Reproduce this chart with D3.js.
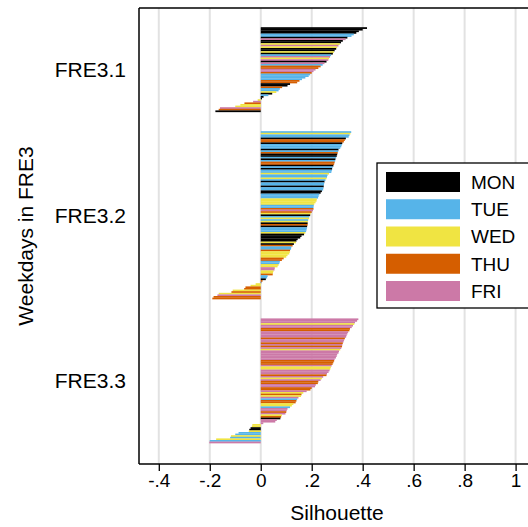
<!DOCTYPE html>
<html><head><meta charset="utf-8">
<script src="https://cdn.jsdelivr.net/npm/d3@7"></script>
<style>body{margin:0;background:#fff}svg{display:block}text{font-family:"Liberation Sans",Arial,sans-serif;fill:#000}</style>
</head><body><svg id="c" width="528" height="527"></svg>
<script>
const clusters = ["FRE3.1", "FRE3.2", "FRE3.3"];
const days = ["MON", "TUE", "WED", "THU", "FRI"];
const dayColors = ["#000000", "#56B4E9", "#F0E442", "#D55E00", "#CC79A7"];
const xTicks = [-0.4, -0.2, 0, 0.2, 0.4, 0.6, 0.8, 1];
const xTickLabels = ["-.4", "-.2", "0", ".2", ".4", ".6", ".8", "1"];

// cluster FRE3.1: silhouette widths (sorted) and weekday of each observation
const sil1 = [0.417,0.40,0.385,0.375,0.365,0.356,0.34,0.333,0.322,0.315,0.31,0.305,0.30,0.296,0.29,0.287,0.283,0.276,0.272,0.268,0.265,0.258,0.25,0.243,0.235,0.226,0.215,0.207,0.2,0.194,0.188,0.175,0.162,0.152,0.143,0.115,0.105,0.084,0.075,0.07,0.061,0.045,0.03,0.011,0.005,-0.012,-0.03,-0.064,-0.08,-0.1,-0.16,-0.165,-0.178];
const day1 = ["MON","MON","MON","MON","TUE","TUE","MON","FRI","MON","MON","WED","FRI","WED","MON","MON","WED","MON","TUE","FRI","WED","FRI","MON","FRI","TUE","THU","THU","FRI","FRI","THU","TUE","TUE","TUE","TUE","THU","THU","MON","MON","THU","TUE","TUE","WED","MON","TUE","MON","MON","WED","FRI","THU","WED","WED","FRI","THU","MON"];

// cluster FRE3.2
const sil2 = [0.355,0.352,0.348,0.345,0.334,0.33,0.326,0.32,0.318,0.316,0.312,0.305,0.304,0.302,0.3,0.298,0.296,0.293,0.292,0.29,0.288,0.285,0.282,0.28,0.279,0.277,0.268,0.262,0.26,0.258,0.254,0.25,0.249,0.248,0.247,0.246,0.245,0.24,0.235,0.23,0.227,0.225,0.22,0.219,0.215,0.21,0.208,0.207,0.207,0.205,0.2,0.196,0.194,0.19,0.19,0.186,0.185,0.184,0.184,0.182,0.181,0.18,0.178,0.175,0.17,0.16,0.155,0.145,0.14,0.138,0.13,0.125,0.12,0.119,0.115,0.114,0.112,0.105,0.1,0.09,0.083,0.075,0.073,0.07,0.066,0.055,0.054,0.05,0.048,0.047,0.027,0.025,0.02,0.007,0.002,-0.02,-0.04,-0.06,-0.065,-0.11,-0.115,-0.165,-0.17,-0.185,-0.19];
const day2 = ["TUE","WED","TUE","TUE","MON","THU","THU","MON","TUE","TUE","TUE","MON","TUE","THU","MON","MON","TUE","MON","TUE","THU","THU","MON","TUE","MON","TUE","TUE","WED","TUE","TUE","WED","TUE","MON","TUE","TUE","MON","TUE","TUE","MON","MON","TUE","TUE","TUE","WED","WED","WED","WED","TUE","TUE","THU","FRI","THU","WED","MON","TUE","WED","TUE","WED","MON","THU","MON","TUE","TUE","TUE","WED","MON","MON","MON","MON","MON","WED","MON","THU","TUE","TUE","THU","WED","WED","WED","WED","THU","THU","TUE","TUE","WED","WED","FRI","FRI","WED","WED","THU","TUE","TUE","MON","THU","MON","WED","WED","THU","THU","WED","THU","WED","FRI","THU","THU"];

// cluster FRE3.3
const sil3 = [0.383,0.378,0.37,0.367,0.362,0.357,0.35,0.348,0.343,0.34,0.337,0.335,0.33,0.327,0.325,0.322,0.32,0.319,0.316,0.312,0.307,0.305,0.3,0.298,0.295,0.29,0.288,0.285,0.282,0.278,0.275,0.273,0.27,0.266,0.26,0.258,0.245,0.24,0.235,0.226,0.224,0.216,0.213,0.2,0.195,0.18,0.167,0.16,0.158,0.148,0.143,0.14,0.137,0.128,0.122,0.115,0.105,0.102,0.1,0.097,0.083,0.08,0.077,0.063,0.057,0.01,-0.033,-0.035,-0.04,-0.045,-0.047,-0.087,-0.1,-0.117,-0.12,-0.175,-0.2,-0.202];
const day3 = ["FRI","FRI","FRI","WED","FRI","FRI","THU","THU","FRI","FRI","FRI","FRI","THU","FRI","FRI","THU","FRI","THU","FRI","WED","FRI","FRI","FRI","FRI","FRI","FRI","THU","THU","THU","FRI","WED","WED","FRI","FRI","FRI","THU","FRI","WED","FRI","THU","THU","FRI","FRI","THU","THU","FRI","WED","THU","WED","FRI","TUE","THU","THU","WED","WED","TUE","FRI","FRI","THU","FRI","WED","THU","MON","FRI","FRI","FRI","WED","WED","MON","MON","WED","TUE","TUE","WED","TUE","WED","TUE","FRI"];

const sils = [sil1, sil2, sil3];
const dayArr = [day1, day2, day3];

(function () {
const svg = d3.select("#c");
const pLeft = 139, pTop = 8, pBottom = 464, pRight = 540;
const gap = 12, edgeTop = 12, edgeBottom = 13;

const obs = [];
const clusterMid = [];
let slot = edgeTop;
sils.forEach((arr, ci) => {
  const start = slot;
  arr.forEach((v, i) => { obs.push({cluster: clusters[ci], value: v, day: dayArr[ci][i], slot: slot}); slot++; });
  clusterMid.push((start + slot) / 2);
  if (ci < sils.length - 1) slot += gap;
});
const totalSlots = slot + edgeBottom;

const x = d3.scaleLinear().domain([-0.4, 1]).range([158.8, 515.6]);
const y = d3.scaleLinear().domain([0, totalSlots]).range([pTop, pBottom]);
const color = d3.scaleOrdinal().domain(days).range(dayColors);
const step = y(1) - y(0);

svg.append("g").selectAll("line").data(xTicks).join("line")
  .attr("x1", d => x(d)).attr("x2", d => x(d))
  .attr("y1", pTop).attr("y2", pBottom)
  .attr("stroke", "#e2e2e2").attr("stroke-width", 2);

svg.append("g").selectAll("rect").data(obs).join("rect")
  .attr("x", d => Math.min(x(0), x(d.value)))
  .attr("width", d => Math.abs(x(d.value) - x(0)))
  .attr("y", d => y(d.slot))
  .attr("height", step + 0.15)
  .attr("fill", d => color(d.day));

const xAxis = d3.axisBottom(x).tickValues(xTicks).tickFormat((d, i) => xTickLabels[i]).tickSize(7).tickPadding(3);
const gx = svg.append("g").attr("transform", `translate(0,${pBottom})`).call(xAxis);
gx.select(".domain").remove();
gx.selectAll(".tick line").attr("stroke", "#000").attr("stroke-width", 1.3);
gx.selectAll(".tick text").style("font-size", "19px").style("font-family", "Liberation Sans, Arial, sans-serif").attr("fill", "#000");

svg.append("line").attr("x1", pLeft).attr("x2", pRight).attr("y1", pBottom).attr("y2", pBottom).attr("stroke", "#000").attr("stroke-width", 1.5);
svg.append("line").attr("x1", pLeft).attr("x2", pLeft).attr("y1", pTop).attr("y2", pBottom).attr("stroke", "#000").attr("stroke-width", 1.5);
svg.append("line").attr("x1", pLeft).attr("x2", pRight).attr("y1", pTop).attr("y2", pTop).attr("stroke", "#000").attr("stroke-width", 1.5);

const yc = d3.scaleOrdinal().domain(clusters).range(clusterMid.map(m => y(m)));
svg.append("g").selectAll("text").data(clusters).join("text")
  .attr("x", 126).attr("y", d => yc(d)).attr("dy", "0.36em")
  .attr("text-anchor", "end").style("font-size", "21px").text(d => d);

svg.append("text").attr("x", 337).attr("y", 520).attr("text-anchor", "middle").style("font-size", "21px").text("Silhouette");
svg.append("text").attr("transform", "translate(33,236) rotate(-90)").attr("text-anchor", "middle").style("font-size", "21px").text("Weekdays in FRE3");

const lg = svg.append("g");
lg.append("rect").attr("x", 377).attr("y", 163).attr("width", 152).attr("height", 145).attr("fill", "#fff").attr("stroke", "#000").attr("stroke-width", 1.3);
const ly = d3.scalePoint().domain(days).range([172, 281]);
lg.selectAll("rect.sw").data(days).join("rect").attr("class", "sw")
  .attr("x", 386).attr("y", d => ly(d)).attr("width", 74).attr("height", 20).attr("fill", d => color(d));
lg.selectAll("text").data(days).join("text")
  .attr("x", 471).attr("y", d => ly(d) + 10).attr("dy", "0.36em").style("font-size", "19px").text(d => d);
})();
</script></body></html>
